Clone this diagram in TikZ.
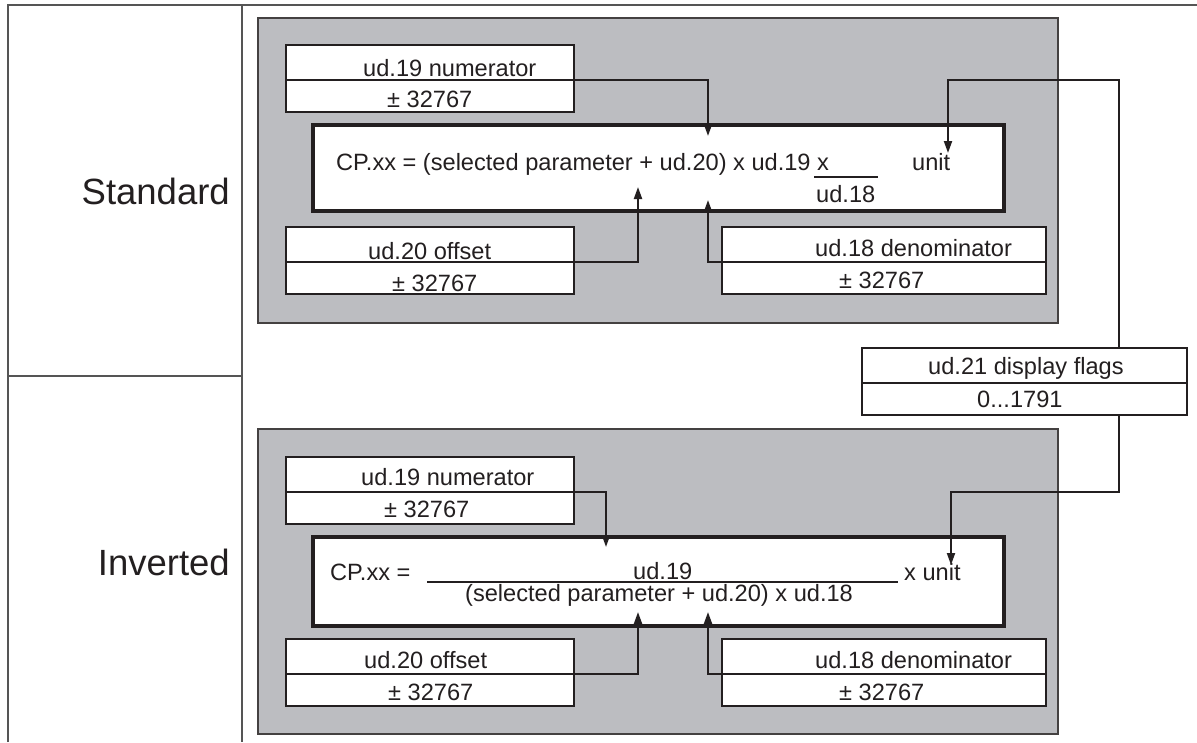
\documentclass[tikz,border=0pt]{standalone}
\usepackage{fontspec}
\setmainfont{Liberation Sans}
\usetikzlibrary{arrows.meta}
\definecolor{panel}{HTML}{BCBDC1}
\definecolor{ink}{HTML}{231F20}
\definecolor{frame}{HTML}{555555}
\begin{document}
\begin{tikzpicture}[x=1pt,y=-1pt,
  cell/.style={draw=ink,line width=2pt,fill=white,inner sep=0pt,outer sep=0pt},
  panelbox/.style={draw=ink!85,line width=2pt,fill=panel,inner sep=0pt,outer sep=0pt},
  formbox/.style={draw=ink,line width=4pt,fill=white,inner sep=0pt,outer sep=0pt},
  lbl/.style={inner sep=0pt,font=\fontsize{23.6}{28}\selectfont,text=ink},
  big/.style={inner sep=0pt,font=\fontsize{36.5}{42}\selectfont,text=ink},
  conn/.style={draw=ink,line width=2pt,-{Triangle[length=12pt,width=8pt]}},
  fracline/.style={draw=ink,line width=1.5pt}]
\useasboundingbox (0,0) rectangle (1197,742);
% frame
\draw[frame,line width=1.5pt] (8,742) -- (8,5) -- (1197,5);
\draw[frame,line width=1.5pt] (242,5) -- (242,742);
\draw[frame,line width=1.5pt] (8,376) -- (242,376);
\node[big,anchor=base east] (tstd) at (230,204) {Standard};
\node[big,anchor=base east] (tinv) at (230,575) {Inverted};

% ---------- Standard panel ----------
\node[panelbox,minimum width=800pt,minimum height=305pt] (grayS) at (658,170.5) {};
\node[cell,minimum width=288pt,minimum height=35pt] (numS-t) at (430,62.5) {};
\node[cell,minimum width=288pt,minimum height=32pt] (numS-b) at (430,96) {};
\node[formbox,minimum width=691pt,minimum height=86pt] (formS) at (658.5,168) {};
\node[cell,minimum width=288pt,minimum height=35pt] (offS-t) at (430,244.5) {};
\node[cell,minimum width=288pt,minimum height=32pt] (offS-b) at (430,278) {};
\node[cell,minimum width=324pt,minimum height=35pt] (denS-t) at (884,244.5) {};
\node[cell,minimum width=324pt,minimum height=32pt] (denS-b) at (884,278) {};
\node[lbl,anchor=base west] (numS-l1) at (363,76) {ud.19 numerator};
\node[lbl,anchor=base west] (numS-l2) at (387,107) {± 32767};
\node[lbl,anchor=base west] (offS-l1) at (368,259) {ud.20 offset};
\node[lbl,anchor=base west] (offS-l2) at (392,291) {± 32767};
\node[lbl,anchor=base west] (denS-l1) at (815,256) {ud.18 denominator};
\node[lbl,anchor=base west] (denS-l2) at (839,288) {± 32767};
\node[lbl,anchor=base west] (fS) at (336,170) {CP.xx = (selected parameter + ud.20) x ud.19 x};
\node[lbl,anchor=base west] (fSden) at (816,202) {ud.18};
\node[lbl,anchor=base west] (fSunit) at (912,170) {unit};
\draw[fracline] (814,177) -- (878,177);

% ---------- display flags ----------
\node[cell,minimum width=325pt,minimum height=35pt] (disp-t) at (1024.5,365.5) {};
\node[cell,minimum width=325pt,minimum height=32pt] (disp-b) at (1024.5,399) {};
\node[lbl,anchor=base west] (disp-l1) at (928,374) {ud.21 display flags};
\node[lbl,anchor=base west] (disp-l2) at (977,407) {0...1791};

% ---------- Inverted panel ----------
\node[panelbox,minimum width=800pt,minimum height=305pt] (grayI) at (658,581.5) {};
\node[cell,minimum width=288pt,minimum height=35pt] (numI-t) at (430,474.5) {};
\node[cell,minimum width=288pt,minimum height=32pt] (numI-b) at (430,508) {};
\node[formbox,minimum width=691pt,minimum height=89pt] (formI) at (658.5,581.5) {};
\node[cell,minimum width=288pt,minimum height=35pt] (offI-t) at (430,656.5) {};
\node[cell,minimum width=288pt,minimum height=32pt] (offI-b) at (430,690) {};
\node[cell,minimum width=324pt,minimum height=35pt] (denI-t) at (884,656.5) {};
\node[cell,minimum width=324pt,minimum height=32pt] (denI-b) at (884,690) {};
\node[lbl,anchor=base west] (numI-l1) at (361,485) {ud.19 numerator};
\node[lbl,anchor=base west] (numI-l2) at (384,517) {± 32767};
\node[lbl,anchor=base west] (offI-l1) at (364,668) {ud.20 offset};
\node[lbl,anchor=base west] (offI-l2) at (388,700) {± 32767};
\node[lbl,anchor=base west] (denI-l1) at (815,668) {ud.18 denominator};
\node[lbl,anchor=base west] (denI-l2) at (839,700) {± 32767};
\node[lbl,anchor=base west] (fI) at (330,580) {CP.xx =};
\node[lbl,anchor=base west] (fInum) at (633,579) {ud.19};
\node[lbl,anchor=base west] (fIden) at (465,601) {(selected parameter + ud.20) x ud.18};
\node[lbl,anchor=base west] (fIunit) at (904,580) {x unit};
\draw[fracline] (427,582) -- (898,582);

% ---------- connectors ----------
\coordinate (tipNS) at (708,136);
\coordinate (tipOS) at (638,187);
\coordinate (tipDS) at (708,200);
\coordinate (tipUS) at (948,153);
\coordinate (bendS) at (1119,80);
\coordinate (tipNI) at (606,547);
\coordinate (tipOI) at (638,612);
\coordinate (tipDI) at (708,612);
\coordinate (tipUI) at (951,565);
\coordinate (bendI) at (1119,492);

\draw[conn] (numS-t.south east) -| (tipNS);
\draw[conn] (offS-t.south east) -| (tipOS);
\draw[conn] (denS-t.south west) -| (tipDS);
\draw[conn] (disp-t.north -| bendS) -- (bendS) -| (tipUS);

\draw[conn] (numI-t.south east) -| (tipNI);
\draw[conn] (offI-t.south east) -| (tipOI);
\draw[conn] (denI-t.south west) -| (tipDI);
\draw[conn] (disp-b.south -| bendI) -- (bendI) -| (tipUI);
\end{tikzpicture}
\end{document}
